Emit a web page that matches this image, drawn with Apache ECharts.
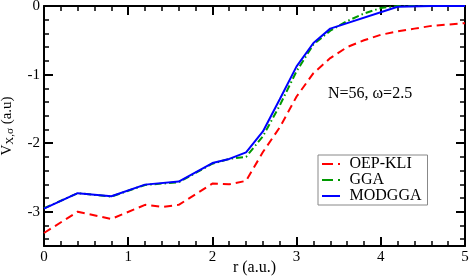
<!DOCTYPE html>
<html>
<head>
<meta charset="utf-8">
<script src="https://cdn.jsdelivr.net/npm/echarts@6/dist/echarts.min.js"></script>
<style>html,body{margin:0;padding:0;background:#fff}#c{width:471px;height:277px}</style>
</head>
<body>
<div id="c"></div>
<script>
const rKli = [0,0.4,0.8,1.2,1.4,1.6,2.0,2.2,2.4,2.6,2.8,3.0,3.2,3.4,3.6,3.8,4.0,4.2,4.4,4.6,4.8,5.0];
const vKli = [-3.31,-3.0,-3.105,-2.9,-2.93,-2.9,-2.59,-2.6,-2.55,-2.13,-1.77,-1.32,-0.98,-0.76,-0.6,-0.5,-0.42,-0.37,-0.33,-0.29,-0.27,-0.25];
const rGga = [0,0.4,0.8,1.2,1.6,2.0,2.2,2.4,2.6,2.8,3.0,3.2,3.4,3.6,3.8,4.0,4.2,4.6,5.0];
const vGga = [-2.95,-2.73,-2.78,-2.61,-2.57,-2.3,-2.23,-2.2,-1.9,-1.45,-0.95,-0.56,-0.36,-0.22,-0.11,-0.03,0,0,0];
const rMod = [0,0.4,0.8,1.2,1.6,2.0,2.2,2.4,2.6,2.8,3.0,3.2,3.4,4.2,4.6,5.0];
const vMod = [-2.955,-2.73,-2.775,-2.605,-2.56,-2.29,-2.23,-2.135,-1.83,-1.36,-0.88,-0.54,-0.33,-0.01,0,0];
const seriesNames = ['OEP-KLI','GGA','MODGGA'];
const yMajorTicks = [-3,-2,-1,0];
const yMinorTicks = [-3.4,-3.2,-2.8,-2.6,-2.4,-2.2,-1.8,-1.6,-1.4,-1.2,-0.8,-0.6,-0.4,-0.2];
const annotation = 'N=56, \u03c9=2.5';

const zip = (a,b)=>a.map((v,i)=>[v,b[i]]);
const font = 'Liberation Serif';
const chart = echarts.init(document.getElementById('c'));
const black = {color:'#000',width:2};
const xCommon = {
  type:'value',min:0,max:5,interval:1,
  axisLine:{show:true,onZero:false,lineStyle:black},
  axisTick:{show:true,inside:true,length:9,lineStyle:black},
  minorTick:{show:true,splitNumber:5,length:5,lineStyle:{color:'#000',width:1.5}},
  splitLine:{show:false}
};
const yMajor = (pos, labels) => ({
  type:'value',min:-3.5,max:0,position:pos,
  axisLine:{show:true,onZero:false,lineStyle:black},
  axisTick:{show:true,inside:true,length:9,lineStyle:black,customValues:yMajorTicks},
  axisLabel:labels ? {show:true,fontFamily:font,fontSize:15,color:'#000',margin:4,customValues:yMajorTicks} : {show:false},
  splitLine:{show:false}
});
const yMinor = (pos) => ({
  type:'value',min:-3.5,max:0,position:pos,
  axisLine:{show:false,onZero:false},
  axisTick:{show:true,inside:true,length:5,lineStyle:{color:'#000',width:1.5},customValues:yMinorTicks},
  axisLabel:{show:false},
  splitLine:{show:false}
});
const yLeft = yMajor('left', true);
Object.assign(yLeft, {
  name:'{v|V}{s|X,\u03c3}{v| (a.u)}',nameLocation:'middle',nameGap:28,nameRotate:90,nameMoveOverlap:false,
  nameTextStyle:{fontFamily:font,color:'#000',rich:{v:{fontFamily:font,fontSize:15,color:'#000'},s:{fontFamily:font,fontSize:11,color:'#000',verticalAlign:'bottom',padding:[6,0,0,0]}}}
});
const dashDot = 'path://M0,0 L11,0 L11,2 L0,2 Z M16,0 L18,0 L18,2 L16,2 Z';
const solid = 'path://M0,0 L18,0 L18,2 L0,2 Z';
chart.setOption({
  animation:false,
  grid:{left:44,right:6,top:6,bottom:31,outerBoundsMode:'none',containLabel:false},
  xAxis:[
    Object.assign({position:'bottom',
      name:'r (a.u.)',nameLocation:'middle',nameGap:14,nameMoveOverlap:false,
      nameTextStyle:{fontFamily:font,fontSize:16,color:'#000'},
      axisLabel:{fontFamily:font,fontSize:15,color:'#000',margin:4}},xCommon),
    Object.assign({position:'top',axisLabel:{show:false}},xCommon)
  ],
  yAxis:[yLeft, yMajor('right', false), yMinor('left'), yMinor('right')],
  legend:{
    left:318,top:155,orient:'vertical',itemWidth:19,itemHeight:2,itemGap:0,
    padding:[1,6,1,4],borderColor:'#888',borderWidth:1,backgroundColor:'#fff',
    itemStyle:{borderWidth:0},
    textStyle:{fontFamily:font,fontSize:16,lineHeight:14,height:14,color:'#000',padding:[0,0,0,4]},
    data:[{name:seriesNames[0],icon:dashDot},{name:seriesNames[1],icon:dashDot},{name:seriesNames[2],icon:solid}]
  },
  graphic:[{type:'text',left:328,top:86,style:{text:annotation,font:'16px "Liberation Serif"',fill:'#000'}}],
  series:[
    {name:seriesNames[0],type:'line',symbol:'none',data:zip(rKli,vKli),color:'#ff0000',lineStyle:{width:2,type:[8,5]},z:3},
    {name:seriesNames[1],type:'line',symbol:'none',data:zip(rGga,vGga),color:'#009900',lineStyle:{width:2,type:[7,3,1.5,3]},z:3},
    {name:seriesNames[2],type:'line',symbol:'none',data:zip(rMod,vMod),color:'#0000ff',lineStyle:{width:2},z:4}
  ]
});
</script>
</body>
</html>
